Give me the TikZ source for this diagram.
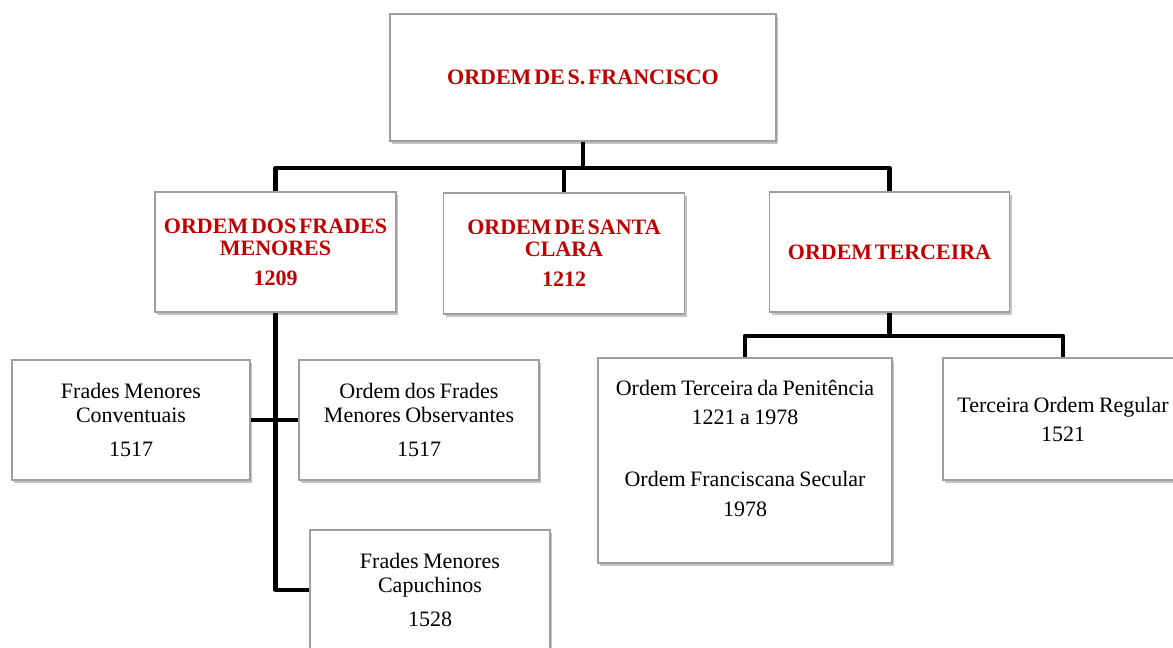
\documentclass[tikz,border=0pt]{standalone}
\usepackage{fontspec}
\setmainfont[WordSpace=0.8]{Liberation Serif}
\newfontfamily\titlefont[WordSpace=0.5]{Liberation Serif}
\usepackage{tikz}
\usetikzlibrary{shadows}
\definecolor{ordred}{RGB}{192,0,0}

\begin{document}
\begin{tikzpicture}[
    x=1pt, y=-1pt,
    unit/.style={draw=black!38, line width=1.6pt, fill=white, inner sep=0pt, align=center,
        drop shadow={shadow xshift=2pt, shadow yshift=-2.5pt, fill=black!45, opacity=0.5},
        font=\fontsize{22}{24}\selectfont},
    order/.style={unit, text=ordred, font=\titlefont\fontsize{22}{22}\selectfont\bfseries},
    link/.style={line width=4.5pt, line join=round}
    ]
    \clip (0,0) rectangle (1173,648);
    \fill[white] (0,0) rectangle (1173,648);
    \node[order, minimum width=386, minimum height=127] (sf) at (583,77.5) {ORDEM DE S. FRANCISCO};
    \node[order, minimum width=241, minimum height=120] (ofm) at (275.5,252) {ORDEM DOS FRADES\\MENORES\\[8pt]1209};
    \node[order, minimum width=241, minimum height=121] (clara) at (564,253.5) {ORDEM DE SANTA\\CLARA\\[8pt]1212};
    \node[order, minimum width=240, minimum height=120] (terc) at (889.5,252) {ORDEM TERCEIRA};
    \node[unit, minimum width=238, minimum height=120] (conv) at (131,420) {Frades Menores\\Conventuais\\[10pt]1517};
    \node[unit, minimum width=240, minimum height=120] (obs) at (419,420) {Ordem dos Frades\\Menores Observantes\\[10pt]1517};
    \node[unit, minimum width=240, minimum height=120] (cap) at (430,590) {Frades Menores\\Capuchinos\\[10pt]1528};
    \node[unit, minimum width=294, minimum height=205] (pen) at (745,460.5) {Ordem Terceira da Penitência\\[5pt]1221 a 1978\\[38pt]Ordem Franciscana Secular\\[6pt]1978\\[1pt]};
    \node[unit, minimum width=240, minimum height=122] (reg) at (1063,419) {Terceira Ordem Regular\\[5pt]1521};
    \coordinate (bus) at (583,168);
    \coordinate (tbus) at (889.5,336);
    \draw[link] (sf.south) -- (bus);
    \draw[link] (ofm.north) |- (bus) -| (terc.north);
    \draw[link] (clara.north) -- (clara.north |- bus);
    \draw[link] (ofm.south) |- (cap.west);
    \draw[link] (conv.east) -- (obs.west);
    \draw[link] (terc.south) -- (tbus);
    \draw[link] (pen.north) |- (tbus) -| (reg.north);
\end{tikzpicture}
\end{document}
